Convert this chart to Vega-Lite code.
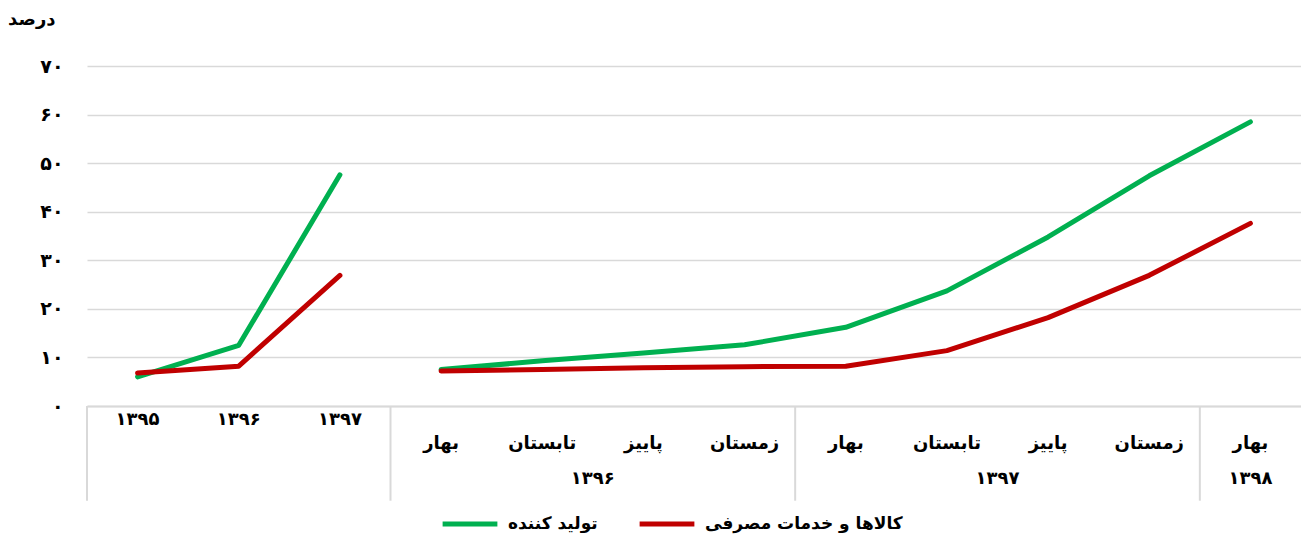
{
  "$schema": "https://vega.github.io/schema/vega-lite/v6.json",
  "autosize": {"type": "none"},
  "width": 1214,
  "height": 340,
  "padding": {"left": 87, "top": 66, "right": 0, "bottom": 135},
  "background": "white",
  "config": {
    "font": "DejaVu Sans",
    "view": {"stroke": null}
  },
  "datasets": {
    "series": [
      {"key": "۱۳۹۵", "series": "تولید کننده", "segment": "سالانه", "value": 6.0},
      {"key": "۱۳۹۶", "series": "تولید کننده", "segment": "سالانه", "value": 12.5},
      {"key": "۱۳۹۷", "series": "تولید کننده", "segment": "سالانه", "value": 47.6},
      {"key": "بهار ۱۳۹۶", "series": "تولید کننده", "segment": "فصلی", "value": 7.5},
      {"key": "تابستان ۱۳۹۶", "series": "تولید کننده", "segment": "فصلی", "value": 9.3},
      {"key": "پاییز ۱۳۹۶", "series": "تولید کننده", "segment": "فصلی", "value": 10.9},
      {"key": "زمستان ۱۳۹۶", "series": "تولید کننده", "segment": "فصلی", "value": 12.6},
      {"key": "بهار ۱۳۹۷", "series": "تولید کننده", "segment": "فصلی", "value": 16.2},
      {"key": "تابستان ۱۳۹۷", "series": "تولید کننده", "segment": "فصلی", "value": 23.7},
      {"key": "پاییز ۱۳۹۷", "series": "تولید کننده", "segment": "فصلی", "value": 34.8},
      {"key": "زمستان ۱۳۹۷", "series": "تولید کننده", "segment": "فصلی", "value": 47.4},
      {"key": "بهار ۱۳۹۸", "series": "تولید کننده", "segment": "فصلی", "value": 58.5},
      {"key": "۱۳۹۵", "series": "کالاها و خدمات مصرفی", "segment": "سالانه", "value": 6.8},
      {"key": "۱۳۹۶", "series": "کالاها و خدمات مصرفی", "segment": "سالانه", "value": 8.2},
      {"key": "۱۳۹۷", "series": "کالاها و خدمات مصرفی", "segment": "سالانه", "value": 26.9},
      {"key": "بهار ۱۳۹۶", "series": "کالاها و خدمات مصرفی", "segment": "فصلی", "value": 7.2},
      {"key": "تابستان ۱۳۹۶", "series": "کالاها و خدمات مصرفی", "segment": "فصلی", "value": 7.5},
      {"key": "پاییز ۱۳۹۶", "series": "کالاها و خدمات مصرفی", "segment": "فصلی", "value": 7.9},
      {"key": "زمستان ۱۳۹۶", "series": "کالاها و خدمات مصرفی", "segment": "فصلی", "value": 8.1},
      {"key": "بهار ۱۳۹۷", "series": "کالاها و خدمات مصرفی", "segment": "فصلی", "value": 8.2},
      {"key": "تابستان ۱۳۹۷", "series": "کالاها و خدمات مصرفی", "segment": "فصلی", "value": 11.4},
      {"key": "پاییز ۱۳۹۷", "series": "کالاها و خدمات مصرفی", "segment": "فصلی", "value": 18.2},
      {"key": "زمستان ۱۳۹۷", "series": "کالاها و خدمات مصرفی", "segment": "فصلی", "value": 26.9},
      {"key": "بهار ۱۳۹۸", "series": "کالاها و خدمات مصرفی", "segment": "فصلی", "value": 37.6}
    ],
    "separators": [
      {"key": "۱۳۹۵"},
      {"key": "بهار ۱۳۹۶"},
      {"key": "بهار ۱۳۹۷"},
      {"key": "بهار ۱۳۹۸"}
    ],
    "groups": [
      {"key": "تابستان ۱۳۹۶", "year": "۱۳۹۶"},
      {"key": "تابستان ۱۳۹۷", "year": "۱۳۹۷"}
    ],
    "single": [
      {"key": "بهار ۱۳۹۸", "year": "۱۳۹۸"}
    ]
  },
  "encoding": {
    "x": {
      "field": "key",
      "type": "nominal",
      "scale": {
        "type": "band",
        "paddingInner": 0,
        "paddingOuter": 0,
        "domain": ["۱۳۹۵", "۱۳۹۶", "۱۳۹۷", "بهار ۱۳۹۶", "تابستان ۱۳۹۶", "پاییز ۱۳۹۶", "زمستان ۱۳۹۶", "بهار ۱۳۹۷", "تابستان ۱۳۹۷", "پاییز ۱۳۹۷", "زمستان ۱۳۹۷", "بهار ۱۳۹۸"]
      },
      "axis": {
        "title": null,
        "orient": "bottom",
        "domain": true,
        "domainColor": "#d9d9d9",
        "domainWidth": 2,
        "ticks": false,
        "grid": false,
        "labelAngle": 0,
        "labelBaseline": "top",
        "labelPadding": 4,
        "labelLineHeight": 24,
        "labelFont": "DejaVu Sans",
        "labelFontWeight": "bold",
        "labelFontSize": 18,
        "labelColor": "#000000",
        "labelLimit": 0,
        "labelExpr": "indexof(datum.value, ' ') < 0 ? datum.value : ['', split(datum.value, ' ')[0]]"
      }
    }
  },
  "layer": [
    {
      "data": {"name": "separators"},
      "mark": {"type": "rule", "clip": false, "color": "#d9d9d9", "strokeWidth": 2},
      "encoding": {
        "x": {"field": "key", "type": "nominal", "bandPosition": 0},
        "y": {"datum": 0, "type": "quantitative"},
        "y2": {"datum": -19.5}
      }
    },
    {
      "data": {"name": "series"},
      "mark": {"type": "line", "strokeWidth": 5, "strokeCap": "round", "strokeJoin": "round", "clip": false},
      "encoding": {
        "y": {
          "field": "value",
          "type": "quantitative",
          "scale": {"domain": [0, 70], "nice": false, "zero": true},
          "axis": {
            "values": [0, 10, 20, 30, 40, 50, 60, 70],
            "domain": false,
            "ticks": false,
            "grid": true,
            "gridColor": "#d9d9d9",
            "gridWidth": 1.5,
            "labelPadding": 24,
            "labelFont": "DejaVu Sans",
            "labelFontWeight": "bold",
            "labelFontSize": 19,
            "labelColor": "#000000",
            "labelExpr": "['۰','۱۰','۲۰','۳۰','۴۰','۵۰','۶۰','۷۰'][round(datum.value / 10)]",
            "title": "درصد",
            "titleAngle": 0,
            "titleAlign": "right",
            "titleBaseline": "middle",
            "titleX": -32,
            "titleY": -47,
            "titleFont": "DejaVu Sans",
            "titleFontWeight": "bold",
            "titleFontSize": 18,
            "titleColor": "#000000"
          }
        },
        "color": {
          "field": "series",
          "type": "nominal",
          "scale": {
            "domain": ["تولید کننده", "کالاها و خدمات مصرفی"],
            "range": ["#00b050", "#c00000"]
          },
          "legend": {
            "title": null,
            "orient": "none",
            "direction": "horizontal",
            "legendX": 353,
            "legendY": 428,
            "symbolType": "stroke",
            "symbolStrokeWidth": 5,
            "symbolSize": 3000,
            "labelFont": "DejaVu Sans",
            "labelFontWeight": "bold",
            "labelFontSize": 17,
            "labelColor": "#000000",
            "labelLimit": 0,
            "labelOffset": 8,
            "columnPadding": 31
          }
        },
        "detail": {"field": "segment", "type": "nominal"}
      }
    },
    {
      "data": {"name": "groups"},
      "mark": {"type": "text", "clip": false, "font": "DejaVu Sans", "fontWeight": "bold", "fontSize": 18, "color": "#000000", "baseline": "middle", "align": "center"},
      "encoding": {
        "x": {"field": "key", "type": "nominal", "bandPosition": 1},
        "y": {"datum": -15, "type": "quantitative"},
        "text": {"field": "year"}
      }
    },
    {
      "data": {"name": "single"},
      "mark": {"type": "text", "clip": false, "font": "DejaVu Sans", "fontWeight": "bold", "fontSize": 18, "color": "#000000", "baseline": "middle", "align": "center"},
      "encoding": {
        "x": {"field": "key", "type": "nominal", "bandPosition": 0.5},
        "y": {"datum": -15, "type": "quantitative"},
        "text": {"field": "year"}
      }
    }
  ]
}
